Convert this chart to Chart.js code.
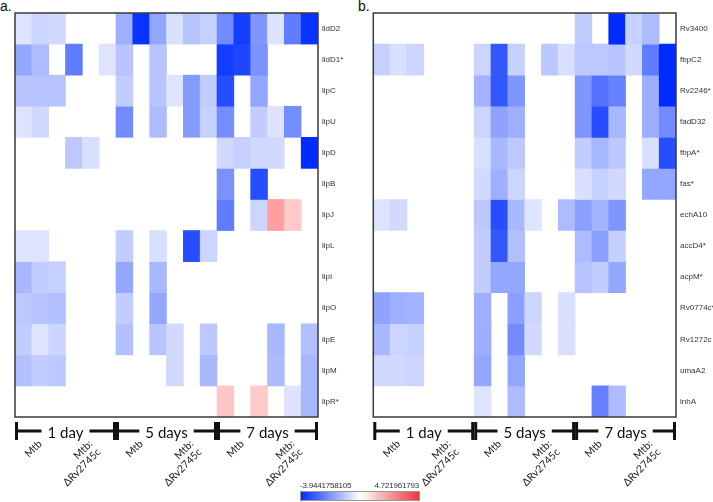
<!DOCTYPE html>
<html>
<head>
<meta charset="utf-8">
<script src="https://cdn.jsdelivr.net/npm/chart.js@4.4.1/dist/chart.umd.min.js"></script>
<style>
  body { margin: 0; background: #fff; width: 713px; height: 502px; position: relative; overflow: hidden; font-family: "Liberation Sans", Arial, sans-serif; }
  canvas { position: absolute; top: 0; }
  #chartA { left: 0; }
  #chartB { left: 358px; }
  .panel { position: absolute; top: -2px; font-size: 14px; color: #111; }
  #scale { position: absolute; left: 300px; top: 491px; width: 118px; height: 8px; border: 1px solid #999;
           background: linear-gradient(to right, rgb(0,45,255), #fff 50%, rgb(235,55,60)); }
  .scaleLbl { position: absolute; top: 481px; font-size: 8px; color: #333; letter-spacing: -0.2px; }
</style>
</head>
<body>
<div class="panel" style="left:0">a.</div>
<div class="panel" style="left:358px">b.</div>
<canvas id="chartA" width="360" height="502"></canvas>
<canvas id="chartB" width="355" height="502"></canvas>
<div id="scale"></div>
<div class="scaleLbl" style="left:300px">-3.9441758105</div>
<div class="scaleLbl" style="left:330px;width:89px;text-align:right">4.721961793</div>
<script>
// 18 columns: 3 time points x 2 strains x 3 replicates, strain named under the middle replicate
var colLabels = ['', 'Mtb', '', '', ['Mtb:', 'ΔRv2745c'], '',
                 '', 'Mtb', '', '', ['Mtb:', 'ΔRv2745c'], '',
                 '', 'Mtb', '', '', ['Mtb:', 'ΔRv2745c'], ''];
var groupLabels = ['1 day', '5 days', '7 days'];

var minVal = -3.9441758105;
var maxVal = 4.721961793;

// panel a
var genesA = ['lldD2', 'lldD1*', 'lipC', 'lipU', 'lipD', 'lipB', 'lipJ', 'lipL', 'lipI', 'lipO', 'lipE', 'lipM', 'lipR*'];
var n = null;
var valuesA = [
  [-0.51, -0.79, -0.71, n, n, n, -1.50, -3.83, -1.66, -0.59, -1.10, -0.87, -2.17, -3.63, -1.97, -0.51, -2.44, -3.83],
  [-1.66, -1.26, n, -2.44, n, -0.51, -1.10, n, -1.10, n, n, n, -3.63, -3.47, -2.05, n, n, n],
  [-1.10, -1.10, -1.10, n, n, n, -0.95, n, -1.10, -0.51, -1.89, -0.95, -3.35, n, -1.66, n, n, n],
  [-0.51, -0.71, n, n, n, n, -2.17, n, -1.26, n, -1.89, -0.87, -2.13, n, -0.95, -0.51, -2.13, n],
  [n, n, n, -1.03, -0.59, n, n, n, n, n, n, n, -0.71, -0.87, -0.71, -0.71, n, -3.94],
  [n, n, n, n, n, n, n, n, n, n, n, n, -2.05, n, -3.35, n, n, n],
  [n, n, n, n, n, n, n, n, n, n, n, n, -2.44, n, -0.79, 2.20, 1.23, n],
  [-0.51, -0.51, n, n, n, n, -0.95, n, -0.59, n, -3.35, -0.79, n, n, n, n, n, n],
  [-1.34, -0.95, -0.87, n, n, n, -1.66, n, -1.34, n, n, n, n, n, n, n, n, n],
  [-1.03, -1.10, -1.18, n, n, n, -0.95, n, -1.66, n, n, n, n, n, n, n, n, n],
  [-0.95, -0.51, -0.79, n, n, n, -1.18, n, -1.10, -0.71, n, -1.03, n, n, n, -1.34, n, -1.18],
  [-1.18, -0.95, -1.03, n, n, n, n, n, n, -0.71, n, -1.34, n, n, n, -1.26, n, -1.34],
  [n, n, n, n, n, n, n, n, n, n, n, n, 1.32, n, 1.23, n, -0.51, -1.34]
];

// panel b
var genesB = ['Rv3400', 'fbpC2', 'Rv2246*', 'fadD32', 'fbpA*', 'fas*', 'echA10', 'accD4*', 'acpM*', 'Rv0774c*', 'Rv1272c', 'umaA2', 'inhA'];
var valuesB = [
  [n, n, n, n, n, n, n, n, n, n, n, n, -0.95, n, -3.94, -0.87, -1.26, n],
  [-0.87, -0.59, -0.79, n, n, n, -0.79, -3.15, -0.87, n, -1.03, -0.59, -1.03, -1.03, -1.10, -0.71, -2.44, -3.94],
  [n, n, n, n, n, n, -1.42, -3.15, -1.97, n, n, n, -1.97, -2.64, -2.37, n, -1.50, -3.94],
  [n, n, n, n, n, n, -0.79, -1.74, -1.50, n, n, n, -1.97, -3.35, -1.34, n, -1.50, -2.17],
  [n, n, n, n, n, n, -0.59, -1.34, -1.03, n, n, n, -0.95, -1.34, -1.03, n, -0.59, -3.35],
  [n, n, n, n, n, n, -0.71, -1.50, -0.79, n, n, n, -0.59, -0.87, -0.71, n, -1.66, -1.66],
  [-0.51, -0.71, n, n, n, n, -1.03, -3.35, -1.34, -0.51, n, -1.26, -1.81, -1.42, -1.97, n, n, n],
  [n, n, n, n, n, n, -0.95, -3.15, -1.18, n, n, n, -1.26, -1.81, -0.87, n, n, n],
  [n, n, n, n, n, n, -0.95, -1.66, -1.66, n, n, n, -1.10, -0.95, -1.66, n, n, n],
  [-1.74, -1.50, -1.42, n, n, n, -1.50, n, -1.81, -0.79, n, -0.59, n, n, n, n, n, n],
  [-1.34, -0.79, -0.87, n, n, n, -1.50, n, -2.17, -0.71, n, -0.59, n, n, n, n, n, n],
  [-0.71, -0.71, -0.79, n, n, n, -1.66, n, -1.66, n, n, n, n, n, n, n, n, n],
  [n, n, n, n, n, n, -0.51, n, -1.26, n, n, n, n, -2.37, -1.26, n, n, n]
];

function cellColor(v) {
  if (v === null) return 'rgba(0,0,0,0)';
  var t, r, g, b;
  if (v < 0) {
    t = Math.min(v / minVal, 1);
    r = 255 - 255 * t; g = 255 - 210 * t; b = 255;
  } else {
    t = Math.min(v / maxVal, 1);
    r = 255; g = 255 - 205 * t; b = 255 - 205 * t;
  }
  return 'rgb(' + Math.round(r) + ',' + Math.round(g) + ',' + Math.round(b) + ')';
}

// frame round the plot and the time point brackets under it
var heatPlugin = {
  id: 'heatFrame',
  afterDatasetsDraw: function (chart) {
    var a = chart.chartArea;
    var ctx = chart.ctx;
    ctx.save();
    ctx.strokeStyle = '#3a3a3a';
    ctx.lineWidth = 1.5;
    ctx.strokeRect(a.left, a.top, a.right - a.left, a.bottom - a.top);

    var w = (a.right - a.left) / 3;
    var yl = a.bottom + 14;
    ctx.strokeStyle = '#111';
    ctx.fillStyle = '#111';
    ctx.lineWidth = 3;
    ctx.font = '15px Lato, "Open Sans", sans-serif';
    ctx.textAlign = 'center';
    ctx.textBaseline = 'middle';
    for (var g = 0; g < 3; g++) {
      var x0 = a.left + w * g + 1.5;
      var x1 = a.left + w * (g + 1) - 1.5;
      var xm = (x0 + x1) / 2;
      var tw = ctx.measureText(groupLabels[g]).width;
      ctx.beginPath();
      ctx.moveTo(x0, yl - 9); ctx.lineTo(x0, yl + 9);
      ctx.moveTo(x1, yl - 9); ctx.lineTo(x1, yl + 9);
      ctx.moveTo(x0, yl); ctx.lineTo(xm - tw / 2 - 6, yl);
      ctx.moveTo(xm + tw / 2 + 6, yl); ctx.lineTo(x1, yl);
      ctx.stroke();
      ctx.fillText(groupLabels[g], xm, yl + 2);
    }
    ctx.restore();
  }
};

function makeHeat(id, genes, values, padLeft, yWidth) {
  var datasets = genes.map(function (gname, r) {
    return {
      label: gname,
      data: values[r].map(function (v) { return v === null ? null : [12 - r, 13 - r]; }),
      backgroundColor: values[r].map(cellColor),
      borderWidth: 0,
      grouped: false,
      categoryPercentage: 1,
      barPercentage: 1
    };
  });
  return new Chart(document.getElementById(id), {
    type: 'bar',
    data: { labels: colLabels, datasets: datasets },
    options: {
      responsive: false,
      animation: false,
      devicePixelRatio: 1,
      layout: { padding: { left: padLeft, top: 13, right: 0, bottom: 0 } },
      plugins: { legend: { display: false }, tooltip: { enabled: false } },
      scales: {
        x: {
          grid: { display: false, drawTicks: false },
          border: { display: false },
          afterFit: function (s) { s.height = 85; },
          ticks: {
            autoSkip: false, maxRotation: 45, minRotation: 45, padding: 21,
            color: '#222', font: { family: 'Lato', size: 10.5, lineHeight: 1.1 }
          }
        },
        y: {
          type: 'linear', position: 'right', min: 0, max: 13,
          grid: { display: false, drawTicks: false },
          border: { display: false },
          afterBuildTicks: function (s) {
            s.ticks = genes.map(function (g, i) { return { value: 12.5 - i }; });
          },
          afterFit: function (s) { s.width = yWidth; },
          ticks: {
            autoSkip: false, padding: 4, color: '#333',
            font: { family: 'Liberation Sans', size: 8 },
            callback: function (v, i) { return genes[i]; }
          }
        }
      }
    },
    plugins: [heatPlugin]
  });
}

makeHeat('chartA', genesA, valuesA, 15, 42);
makeHeat('chartB', genesB, valuesB, 15.3, 37);
</script>
</body>
</html>
